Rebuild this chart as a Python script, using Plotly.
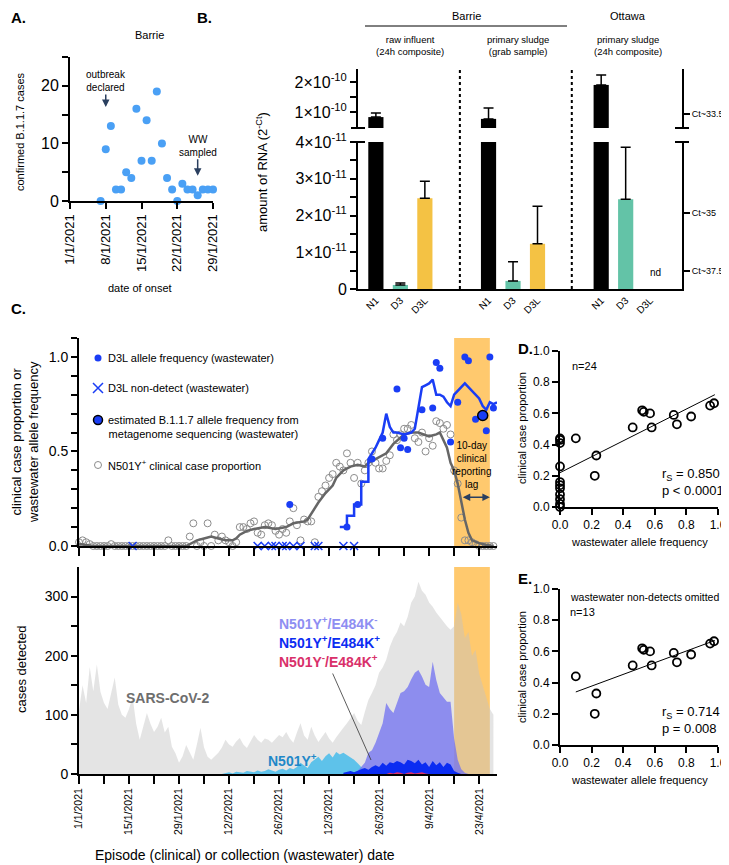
import pandas as pd
import plotly.graph_objects as go

W, H = 729, 865
PAGE_PAD = 8  # default body margin of the page holding the figure
FW, FH = W - PAGE_PAD, H - PAGE_PAD
FONT = "Arial, Liberation Sans, Helvetica, sans-serif"

# ---------------- panel A: Barrie onset dates ----------------
onset_dates = pd.date_range("2021-01-07", "2021-01-30").strftime("%Y-%m-%d").tolist()
onset_cases = [0, 9, 13, 2, 2, 5, 4, 16, 7, 14, 7, 19, 10, 4, 2, 0, 3, 2, 2, 1, 2, 2, 2, 2]
onset_ticks = ["2021-01-01", "2021-01-08", "2021-01-15", "2021-01-22", "2021-01-29"]
onset_ticktext = ["1/1/2021", "8/1/2021", "15/1/2021", "22/1/2021", "29/1/2021"]

# ---------------- panel B: RNA amounts ----------------
targets = ["N1", "D3", "D3L"]
rna_n1 = [8.3e-11, 7.7e-11, 1.9e-10]
rna_n1_err = [1.4e-11, 3.6e-11, 3.3e-11]
rna_d3 = [1.1e-12, 2.2e-12, 2.44e-11]
rna_d3_err = [0.5e-12, 5.2e-12, 1.42e-11]
rna_d3l = [2.47e-11, 1.23e-11, None]
rna_d3l_err = [0.46e-11, 1.02e-11, None]
ct_lower_vals = [2.08e-11, 0.49e-11]
ct_lower_text = ["Ct~35", "Ct~37.5"]
ct_upper_vals = [0.93e-10]
ct_upper_text = ["Ct~33.5"]

# ---------------- panel C (top): proportions ----------------
clin_prop = [
    0.02, 0.03, 0.02, 0.01, 0.0, 0.0, 0.0, 0.0, 0.0, 0.01,
    0.0, 0.0, 0.0, 0.0, 0.0, 0.0, 0.0, 0.0, 0.0, 0.0,
    0.0, 0.0, 0.0, 0.0, 0.0, 0.03, 0.0, 0.0, 0.0, 0.0,
    0.0, 0.05, 0.12, 0.0, 0.02, 0.0, 0.12, 0.0, 0.06, 0.03,
    0.05, 0.03, 0.02, 0.0, 0.02, 0.10, 0.10, 0.09, 0.12, 0.13,
    0.07, 0.06, 0.11, 0.12, 0.11, 0.08, 0.06, 0.09, 0.07, 0.13,
    0.20, 0.11, 0.03, 0.14, 0.13, 0.13, 0.02, 0.26, 0.29, 0.32,
    0.36, 0.38, 0.44, 0.42, 0.40, 0.49, 0.44, 0.36, 0.44, 0.33,
    0.40, 0.44, 0.50, 0.44, 0.41, 0.41, 0.45, 0.48, 0.59, 0.56,
    0.59, 0.62, 0.62, 0.64, 0.57, 0.55, 0.60, 0.50, 0.57, 0.53,
    0.66, 0.65, 0.62, 0.64, 0.59, 0.40, 0.33, 0.15, 0.03, 0.03,
    0.02, 0.01, 0.0, 0.0, 0.0, 0.0, 0.0,
]
clin_dates = pd.date_range("2021-01-01", periods=len(clin_prop)).strftime("%Y-%m-%d").tolist()

clin_trend_dates = [
    "2021-01-01", "2021-01-05", "2021-01-31", "2021-02-01", "2021-02-03", "2021-02-05",
    "2021-02-07", "2021-02-09", "2021-02-11", "2021-02-13", "2021-02-14", "2021-02-15",
    "2021-02-17", "2021-02-19", "2021-02-22", "2021-02-25", "2021-02-28", "2021-03-02",
    "2021-03-05", "2021-03-06", "2021-03-07", "2021-03-09", "2021-03-11", "2021-03-13",
    "2021-03-14", "2021-03-16", "2021-03-18", "2021-03-20", "2021-03-22", "2021-03-23",
    "2021-03-25", "2021-03-28", "2021-03-30", "2021-04-02", "2021-04-04", "2021-04-06",
    "2021-04-09", "2021-04-11", "2021-04-12", "2021-04-14", "2021-04-15", "2021-04-16",
    "2021-04-17", "2021-04-18", "2021-04-19", "2021-04-20", "2021-04-21", "2021-04-23",
    "2021-04-25", "2021-04-27",
]
clin_trend = [
    0.01, 0.0, 0.0, 0.01, 0.03, 0.04,
    0.05, 0.04, 0.03, 0.03, 0.04, 0.06,
    0.08, 0.09, 0.10, 0.09, 0.10, 0.12,
    0.13, 0.14, 0.17, 0.23, 0.28, 0.32,
    0.36, 0.40, 0.42, 0.43, 0.42, 0.44,
    0.46, 0.49, 0.54, 0.59, 0.60, 0.60,
    0.58, 0.59, 0.60, 0.52, 0.44, 0.40,
    0.33, 0.23, 0.14, 0.07, 0.03, 0.015,
    0.005, 0.0,
]

ww_dates = [
    "2021-03-01", "2021-03-17", "2021-03-20", "2021-03-24", "2021-03-27", "2021-03-31",
    "2021-04-01", "2021-04-02", "2021-04-03", "2021-04-07", "2021-04-10", "2021-04-11",
    "2021-04-12", "2021-04-15", "2021-04-17", "2021-04-19", "2021-04-20", "2021-04-22",
    "2021-04-25", "2021-04-26", "2021-04-27",
]
ww_freq = [
    0.22, 0.10, 0.22, 0.46, 0.57, 0.83,
    0.52, 0.57, 0.51, 0.72, 0.73, 0.97,
    0.94, 0.55, 0.76, 1.0, 0.98, 0.67,
    0.61, 1.0, 0.73,
]
ww_nd_dates = [
    "2021-01-16", "2021-02-20", "2021-02-22", "2021-02-24", "2021-02-25", "2021-02-27",
    "2021-02-28", "2021-03-02", "2021-03-04", "2021-03-08", "2021-03-09", "2021-03-16",
    "2021-03-19",
]
ww_nd = [0.0] * len(ww_nd_dates)
meta_dates = ["2021-04-24"]
meta_freq = [0.69]

ww_trend_dates = [
    "2021-03-15", "2021-03-17", "2021-03-17", "2021-03-19", "2021-03-19", "2021-03-21",
    "2021-03-21", "2021-03-23", "2021-03-23", "2021-03-25", "2021-03-26", "2021-03-27",
    "2021-03-28", "2021-03-29", "2021-03-30", "2021-03-31", "2021-04-02", "2021-04-04",
    "2021-04-05", "2021-04-06", "2021-04-07", "2021-04-08", "2021-04-09", "2021-04-10",
    "2021-04-11", "2021-04-12", "2021-04-13", "2021-04-14", "2021-04-15", "2021-04-16",
    "2021-04-17", "2021-04-18", "2021-04-19", "2021-04-20", "2021-04-21", "2021-04-22",
    "2021-04-23", "2021-04-24", "2021-04-25", "2021-04-26", "2021-04-27", "2021-04-28",
]
ww_trend = [
    0.10, 0.10, 0.16, 0.16, 0.22, 0.22,
    0.34, 0.34, 0.46, 0.52, 0.56, 0.60,
    0.70, 0.63, 0.60, 0.60, 0.59, 0.60,
    0.62, 0.72, 0.84, 0.85, 0.86, 0.88,
    0.80, 0.80, 0.79, 0.76, 0.74, 0.80,
    0.82, 0.84, 0.86, 0.84, 0.82, 0.80,
    0.78, 0.74, 0.72, 0.76, 0.75, 0.76,
]

week_ticks = pd.date_range("2021-01-01", "2021-04-23", freq="7D").strftime("%Y-%m-%d").tolist()
week_labels = ["1/1/2021", "", "15/1/2021", "", "29/1/2021", "", "12/2/2021", "", "26/2/2021", "",
               "12/3/2021", "", "26/3/2021", "", "9/4/2021", "", "23/4/2021"]

# ---------------- panel C (bottom): cases ----------------
cases_total = [
    108, 150, 120, 181, 140, 185, 139, 120, 110, 135,
    163, 117, 100, 95, 110, 130, 85, 58, 80, 103,
    85, 71, 80, 95, 70, 80, 46, 35, 19, 30,
    49, 35, 24, 50, 78, 45, 29, 24, 30, 36,
    45, 58, 50, 46, 55, 61, 50, 44, 55, 66,
    58, 53, 60, 58, 53, 60, 66, 62, 71, 60,
    53, 70, 86, 65, 58, 80, 65, 54, 62, 71,
    60, 53, 62, 71, 78, 86, 95, 103, 90, 83,
    105, 125, 137, 150, 171, 180, 193, 215, 230, 240,
    256, 250, 266, 290, 300, 325, 310, 303, 290, 283,
    273, 265, 256, 250, 244, 250, 290, 270, 230, 240,
    200, 210, 170, 150, 130, 110, 100,
]
n501y_start = "2021-02-10"
n501y_cases = [
    0, 2, 3, 1, 4, 3, 2, 5, 4, 3, 6, 4, 5, 8, 6, 4, 7, 9, 6, 10,
    8, 12, 19, 14, 10, 20, 25, 29, 22, 30, 35, 28, 37, 33, 36, 32, 28, 24, 18, 12,
    8, 4, 0,
]
e484k_neg_start = "2021-03-20"
e484k_neg_cases = [
    5, 12, 19, 36, 40, 53, 70, 86, 120, 110, 103, 120, 137, 140, 147, 160,
    171, 176, 165, 151, 147, 190, 159, 137, 130, 122, 122, 60, 24, 8, 2, 0,
]
e484k_pos_start = "2021-03-16"
e484k_pos_cases = [
    2, 4, 5, 3, 6, 8, 10, 7, 12, 15, 12, 19, 14, 20, 18, 22, 20, 16, 24, 22,
    18, 24, 16, 20, 12, 22, 15, 20, 12, 19, 16, 5, 2, 0,
]
n501y_neg_start = "2021-03-28"
n501y_neg_cases = [0, 2, 1, 3, 2, 0, 2, 3, 1, 2, 3, 1, 0]

# ---------------- panels D / E: correlation ----------------
corr_ww = [0.0, 0.0, 0.0, 0.0, 0.0, 0.0, 0.0, 0.0, 0.0, 0.0, 0.0,
           0.10, 0.23, 0.22, 0.46, 0.52, 0.53, 0.57, 0.58, 0.72, 0.74, 0.83, 0.95, 0.975]
corr_clin = [0.44, 0.43, 0.41, 0.26, 0.16, 0.14, 0.12, 0.08, 0.05, 0.02, 0.0,
             0.44, 0.33, 0.20, 0.51, 0.62, 0.61, 0.60, 0.51, 0.59, 0.53, 0.58, 0.65, 0.665]
fit_d_x, fit_d_y = [0.0, 0.98], [0.22, 0.72]
fit_e_x, fit_e_y = [0.10, 0.98], [0.34, 0.67]


# page pixel -> paper fraction
def fx(p):
    return (p - PAGE_PAD) / FW


def fy(p):
    return 1 - (p - PAGE_PAD) / FH


BLUE = "#1a3df5"
GROUP_STEP = 4.6

fig = go.Figure()

# A
fig.add_trace(go.Scatter(x=onset_dates, y=onset_cases, mode="markers", cliponaxis=False,
                         marker=dict(color="#4aa0f5", size=8), xaxis="x", yaxis="y"))

# B: bars drawn into both halves of the broken axis
bar_sets = [(rna_n1, rna_n1_err, "black"), (rna_d3, rna_d3_err, "#63c3a7"),
            (rna_d3l, rna_d3l_err, "#f4c244")]
for ya in ["y2", "y3"]:
    for k, (vals, errs, col) in enumerate(bar_sets):
        fig.add_trace(go.Bar(
            x=[g * GROUP_STEP + k for g in range(3)], y=vals, width=0.62,
            marker=dict(color=col, line=dict(width=0)),
            error_y=dict(type="data", array=errs, arrayminus=[0, 0, 0], symmetric=False,
                         color="black", thickness=1.5, width=5),
            xaxis="x2", yaxis=ya))
for ya in ["y4", "y5"]:
    fig.add_trace(go.Scatter(x=[None], y=[None], xaxis="x2", yaxis=ya))

# C top
fig.add_trace(go.Scatter(x=clin_dates, y=clin_prop, mode="markers", cliponaxis=False,
                         marker=dict(symbol="circle-open", size=7, color="#8c8c8c", line=dict(width=1)),
                         xaxis="x6", yaxis="y6"))
fig.add_trace(go.Scatter(x=clin_trend_dates, y=clin_trend, mode="lines",
                         line=dict(color="#666666", width=2.5), xaxis="x6", yaxis="y6"))
fig.add_trace(go.Scatter(x=ww_trend_dates, y=ww_trend, mode="lines",
                         line=dict(color=BLUE, width=2.5), xaxis="x6", yaxis="y6"))
fig.add_trace(go.Scatter(x=ww_dates, y=ww_freq, mode="markers", cliponaxis=False,
                         marker=dict(color=BLUE, size=7), xaxis="x6", yaxis="y6"))
fig.add_trace(go.Scatter(x=ww_nd_dates, y=ww_nd, mode="markers", cliponaxis=False,
                         marker=dict(symbol="x-thin", size=8, color=BLUE, line=dict(width=1.5, color=BLUE)),
                         xaxis="x6", yaxis="y6"))
fig.add_trace(go.Scatter(x=meta_dates, y=meta_freq, mode="markers", cliponaxis=False,
                         marker=dict(color=BLUE, size=10, line=dict(color="black", width=1.5)),
                         xaxis="x6", yaxis="y6"))

# C bottom
area_sets = [
    ("2021-01-01", cases_total, "rgba(195,195,195,0.45)"),
    (n501y_start, n501y_cases, "rgba(60,185,235,0.8)"),
    (e484k_neg_start, e484k_neg_cases, "rgba(112,112,242,0.75)"),
    (e484k_pos_start, e484k_pos_cases, "#0b2cf2"),
    (n501y_neg_start, n501y_neg_cases, "#e0306a"),
]
for start, vals, col in area_sets:
    dates = pd.date_range(start, periods=len(vals)).strftime("%Y-%m-%d").tolist()
    fig.add_trace(go.Scatter(x=dates, y=vals, mode="lines", fill="tozeroy", fillcolor=col,
                             line=dict(width=0), xaxis="x7", yaxis="y7"))

# D / E
for xa, ya, xs, ys, lx, ly in [("x8", "y8", corr_ww, corr_clin, fit_d_x, fit_d_y),
                               ("x9", "y9", corr_ww[11:], corr_clin[11:], fit_e_x, fit_e_y)]:
    fig.add_trace(go.Scatter(x=lx, y=ly, mode="lines", line=dict(color="black", width=1),
                             xaxis=xa, yaxis=ya))
    fig.add_trace(go.Scatter(x=xs, y=ys, mode="markers", cliponaxis=False,
                             marker=dict(symbol="circle-open", size=8, color="black", line=dict(width=1.8)),
                             xaxis=xa, yaxis=ya))

# legend symbols for panel C (page-pixel overlay)
leg_x, leg_y = [98, 98, 98, 98], [358, 388, 420, 465]
fig.add_trace(go.Scatter(x=leg_x[:1], y=leg_y[:1], mode="markers", marker=dict(color=BLUE, size=7),
                         xaxis="x10", yaxis="y10"))
fig.add_trace(go.Scatter(x=leg_x[1:2], y=leg_y[1:2], mode="markers",
                         marker=dict(symbol="x-thin", size=10, color=BLUE, line=dict(width=1.5, color=BLUE)),
                         xaxis="x10", yaxis="y10"))
fig.add_trace(go.Scatter(x=leg_x[2:3], y=leg_y[2:3], mode="markers",
                         marker=dict(color=BLUE, size=9, line=dict(color="black", width=1.5)),
                         xaxis="x10", yaxis="y10"))
fig.add_trace(go.Scatter(x=leg_x[3:], y=leg_y[3:], mode="markers",
                         marker=dict(symbol="circle-open", size=7, color="#8c8c8c", line=dict(width=1)),
                         xaxis="x10", yaxis="y10"))

fig.update_traces(showlegend=False, hoverinfo="skip")

ax_style = dict(showline=True, linecolor="black", linewidth=2, ticks="outside", tickwidth=2,
                ticklen=6, tickcolor="black", showgrid=False, zeroline=False, automargin=False)
minor_style = dict(ticklen=6, tickwidth=2, tickcolor="black", ticks="outside")

layout = dict(
    width=FW, height=FH, margin=dict(l=0, r=0, t=0, b=0, pad=0, autoexpand=False),
    paper_bgcolor="white", plot_bgcolor="rgba(0,0,0,0)",
    font=dict(family=FONT, color="black", size=11), barmode="overlay", showlegend=False,
    # A
    xaxis=dict(ax_style, domain=[fx(70), fx(213)], anchor="y", type="date",
               range=["2021-01-01", "2021-01-29"], tickvals=onset_ticks, ticktext=onset_ticktext,
               tickangle=-90, tickfont=dict(size=13)),
    yaxis=dict(ax_style, domain=[fy(201), fy(57)], anchor="x", range=[0, 25],
               tickvals=[0, 10, 20], tickfont=dict(size=16),
               minor=dict(minor_style, tickvals=[5, 15, 25])),
    # B
    xaxis2=dict(ax_style, domain=[fx(358), fx(682)], anchor="y2", range=[-0.73, 12.5], ticks="",
                tickvals=[g * GROUP_STEP + k for g in range(3) for k in range(3)],
                ticktext=targets * 3, tickangle=-45, tickfont=dict(size=10), linewidth=1.5),
    yaxis2=dict(ax_style, domain=[fy(289), fy(142)], anchor="x2", range=[0, 4e-11],
                tickvals=[0, 1e-11, 2e-11, 3e-11, 4e-11],
                ticktext=["0", "1×10<sup>-11</sup>", "2×10<sup>-11</sup>", "3×10<sup>-11</sup>",
                          "4×10<sup>-11</sup>"],
                tickfont=dict(size=16),
                minor=dict(minor_style, tickvals=[0.5e-11, 1.5e-11, 2.5e-11, 3.5e-11])),
    yaxis3=dict(ax_style, domain=[fy(128), fy(69)], anchor="x2", range=[4.67e-11, 2.43e-10],
                tickvals=[1e-10, 2e-10], ticktext=["1×10<sup>-10</sup>", "2×10<sup>-10</sup>"],
                tickfont=dict(size=16),
                minor=dict(minor_style, tickvals=[1.5e-10])),
    yaxis4=dict(ax_style, overlaying="y2", side="right", anchor="x2", range=[0, 4e-11],
                tickvals=ct_lower_vals, ticktext=ct_lower_text, tickfont=dict(size=9)),
    yaxis5=dict(ax_style, overlaying="y3", side="right", anchor="x2", range=[4.67e-11, 2.43e-10],
                tickvals=ct_upper_vals, ticktext=ct_upper_text, tickfont=dict(size=9)),
    # C top
    xaxis6=dict(ax_style, domain=[fx(79), fx(497)], anchor="y6", type="date",
                range=["2021-01-01", "2021-04-28"], tickvals=week_ticks, showticklabels=False,
                ticklen=8),
    yaxis6=dict(ax_style, domain=[fy(546), fy(338)], anchor="x6", range=[0, 1.1],
                tickvals=[0, 0.5, 1.0], ticktext=["0.0", "0.5", "1.0"], tickfont=dict(size=14),
                minor=dict(minor_style, dtick=0.1, tick0=0)),
    # C bottom
    xaxis7=dict(ax_style, domain=[fx(79), fx(497)], anchor="y7", type="date",
                range=["2021-01-01", "2021-04-28"], tickvals=week_ticks, ticktext=week_labels,
                tickangle=-90, tickfont=dict(size=10.5), ticklen=8),
    yaxis7=dict(ax_style, domain=[fy(774), fy(567)], anchor="x7", range=[0, 350],
                tickvals=[0, 100, 200, 300], tickfont=dict(size=14),
                minor=dict(minor_style, tickvals=[50, 150, 250])),
    # D
    xaxis8=dict(ax_style, domain=[fx(560), fx(718)], anchor="y8", range=[0, 1],
                tickvals=[0, 0.2, 0.4, 0.6, 0.8, 1.0], tickformat=".1f", tickfont=dict(size=12)),
    yaxis8=dict(ax_style, domain=[fy(507), fy(351)], anchor="x8", range=[0, 1],
                tickvals=[0, 0.2, 0.4, 0.6, 0.8, 1.0], tickformat=".1f", tickfont=dict(size=12)),
    # E
    xaxis9=dict(ax_style, domain=[fx(560), fx(718)], anchor="y9", range=[0, 1],
                tickvals=[0, 0.2, 0.4, 0.6, 0.8, 1.0], tickformat=".1f", tickfont=dict(size=12)),
    yaxis9=dict(ax_style, domain=[fy(745), fy(589)], anchor="x9", range=[0, 1],
                tickvals=[0, 0.2, 0.4, 0.6, 0.8, 1.0], tickformat=".1f", tickfont=dict(size=12)),
    # page-pixel overlay for the legend symbols
    xaxis10=dict(domain=[0, 1], range=[PAGE_PAD, W], visible=False, anchor="y10", automargin=False),
    yaxis10=dict(domain=[0, 1], range=[H, PAGE_PAD], visible=False, anchor="x10", automargin=False),
)
fig.update_layout(**layout)

# shapes
shapes = [
    dict(type="rect", xref="x6", yref="y6 domain", x0="2021-04-16", x1="2021-04-26", y0=0, y1=1,
         fillcolor="#ffc96e", line=dict(width=0), layer="below"),
    dict(type="rect", xref="x7", yref="y7 domain", x0="2021-04-16", x1="2021-04-26", y0=0, y1=1,
         fillcolor="#ffc96e", line=dict(width=0), layer="below"),
    dict(type="line", xref="paper", yref="paper", x0=fx(365), x1=fx(567), y0=fy(26), y1=fy(26),
         line=dict(color="black", width=1)),
]
for sx in [3.43, 8.0]:
    shapes.append(dict(type="line", xref="x2", yref="paper", x0=sx, x1=sx, y0=fy(289), y1=fy(69),
                       line=dict(color="black", width=2, dash="dot")))
for bx in [358, 682]:
    for by in [128, 142]:
        shapes.append(dict(type="line", xref="paper", yref="paper", x0=fx(bx - 7), x1=fx(bx + 7),
                           y0=fy(by), y1=fy(by), line=dict(color="black", width=2)))
fig.update_layout(shapes=shapes)


def note(text, x, y, size=11, xanchor="center", yanchor="middle", angle=0, bold=False, color="black"):
    if bold:
        text = "<b>" + text + "</b>"
    fig.add_annotation(text=text, x=fx(x), y=fy(y), xref="paper", yref="paper", showarrow=False,
                       xanchor=xanchor, yanchor=yanchor, textangle=angle,
                       font=dict(size=size, color=color, family=FONT))


# A texts
note("A.", 9, 17, size=15, xanchor="left", bold=True)
note("Barrie", 149, 35, size=11)
note("confirmed B.1.1.7 cases", 20, 132, angle=-90)
note("date of onset", 140, 288)
fig.add_annotation(x="2021-01-08", y=16.3, xref="x", yref="y", text="outbreak<br>declared",
                   showarrow=True, arrowhead=2, arrowsize=1, arrowwidth=1.5, ax=0, ay=-26,
                   font=dict(size=10))
fig.add_annotation(x="2021-01-26", y=4.4, xref="x", yref="y", text="WW<br>sampled",
                   showarrow=True, arrowhead=2, arrowsize=1, arrowwidth=1.5, ax=0, ay=-30,
                   font=dict(size=10))

# B texts
note("B.", 195, 17, size=15, xanchor="left", bold=True)
note("Barrie", 466, 16)
note("Ottawa", 628, 16)
note("raw influent<br>(24h composite)", 410, 46, size=9.5)
note("primary sludge<br>(grab sample)", 518, 46, size=9.5)
note("primary sludge<br>(24h composite)", 628, 46, size=9.5)
note("amount of RNA (2<sup>-Ct</sup>)", 262, 172, size=13, angle=-90)
note("nd", 655, 272, size=10)

# C texts
note("C.", 9, 308, size=15, xanchor="left", bold=True)
note("clinical case proportion or<br>wastewater allele frequency", 25, 442, size=13, angle=-90)
note("cases detected", 21, 670, size=13, angle=-90)
note("D3L allele frequency (wastewater)", 106, 358, xanchor="left")
note("D3L non-detect (wastewater)", 106, 388, xanchor="left")
note("estimated B.1.1.7 allele frequency from<br>metagenome sequencing (wastewater)", 106, 427,
     xanchor="left")
note("N501Y<sup>+</sup> clinical case proportion", 106, 465, xanchor="left")
note("10-day<br>clinical<br>reporting<br>lag", 471, 465, size=10)
fig.add_annotation(x="2021-04-26", y=0.258, ax="2021-04-18", ay=0.258, xref="x6", yref="y6",
                   axref="x6", ayref="y6", text="", showarrow=True, arrowhead=2, arrowside="end+start",
                   arrowsize=1, arrowwidth=1.5)
note("SARS-CoV-2", 167, 698, size=14, bold=True, color="#6e6e6e")
note("N501Y<sup>+</sup>", 292, 760, size=14, bold=True, color="#1f88c8")
note("N501Y<sup>+</sup>/E484K<sup>-</sup>", 277, 623, size=14, bold=True, color="#8e8ef2", xanchor="left")
note("N501Y<sup>+</sup>/E484K<sup>+</sup>", 277, 642, size=14, bold=True, color="#0b2cf2", xanchor="left")
note("N501Y<sup>-</sup>/E484K<sup>+</sup>", 277, 661, size=14, bold=True, color="#d9306a", xanchor="left")
fig.add_annotation(x=fx(371), y=fy(760), xref="paper", yref="paper", text="", showarrow=True,
                   arrowhead=0, arrowwidth=0.8, arrowcolor="#333333", ax=-39, ay=-88)
note("Episode (clinical) or collection (wastewater) date", 245, 855, size=14)

# D / E texts
note("D.", 516, 348, size=15, xanchor="left", bold=True)
note("n=24", 570, 366, xanchor="left")
note("r<sub>S</sub> = 0.850", 660, 474, size=13, xanchor="left")
note("p < 0.0001", 660, 490, size=13, xanchor="left")
note("clinical case proportion", 522, 428, angle=-90)
note("wastewater allele frequency", 639, 542)
note("E.", 516, 578, size=15, xanchor="left", bold=True)
note("wastewater non-detects omitted", 568, 597, size=10.5, xanchor="left")
note("n=13", 568, 612, xanchor="left")
note("r<sub>S</sub> = 0.714", 660, 712, size=13, xanchor="left")
note("p = 0.008", 660, 728, size=13, xanchor="left")
note("clinical case proportion", 522, 667, angle=-90)
note("wastewater allele frequency", 639, 780)

fig.write_html("out.html")
